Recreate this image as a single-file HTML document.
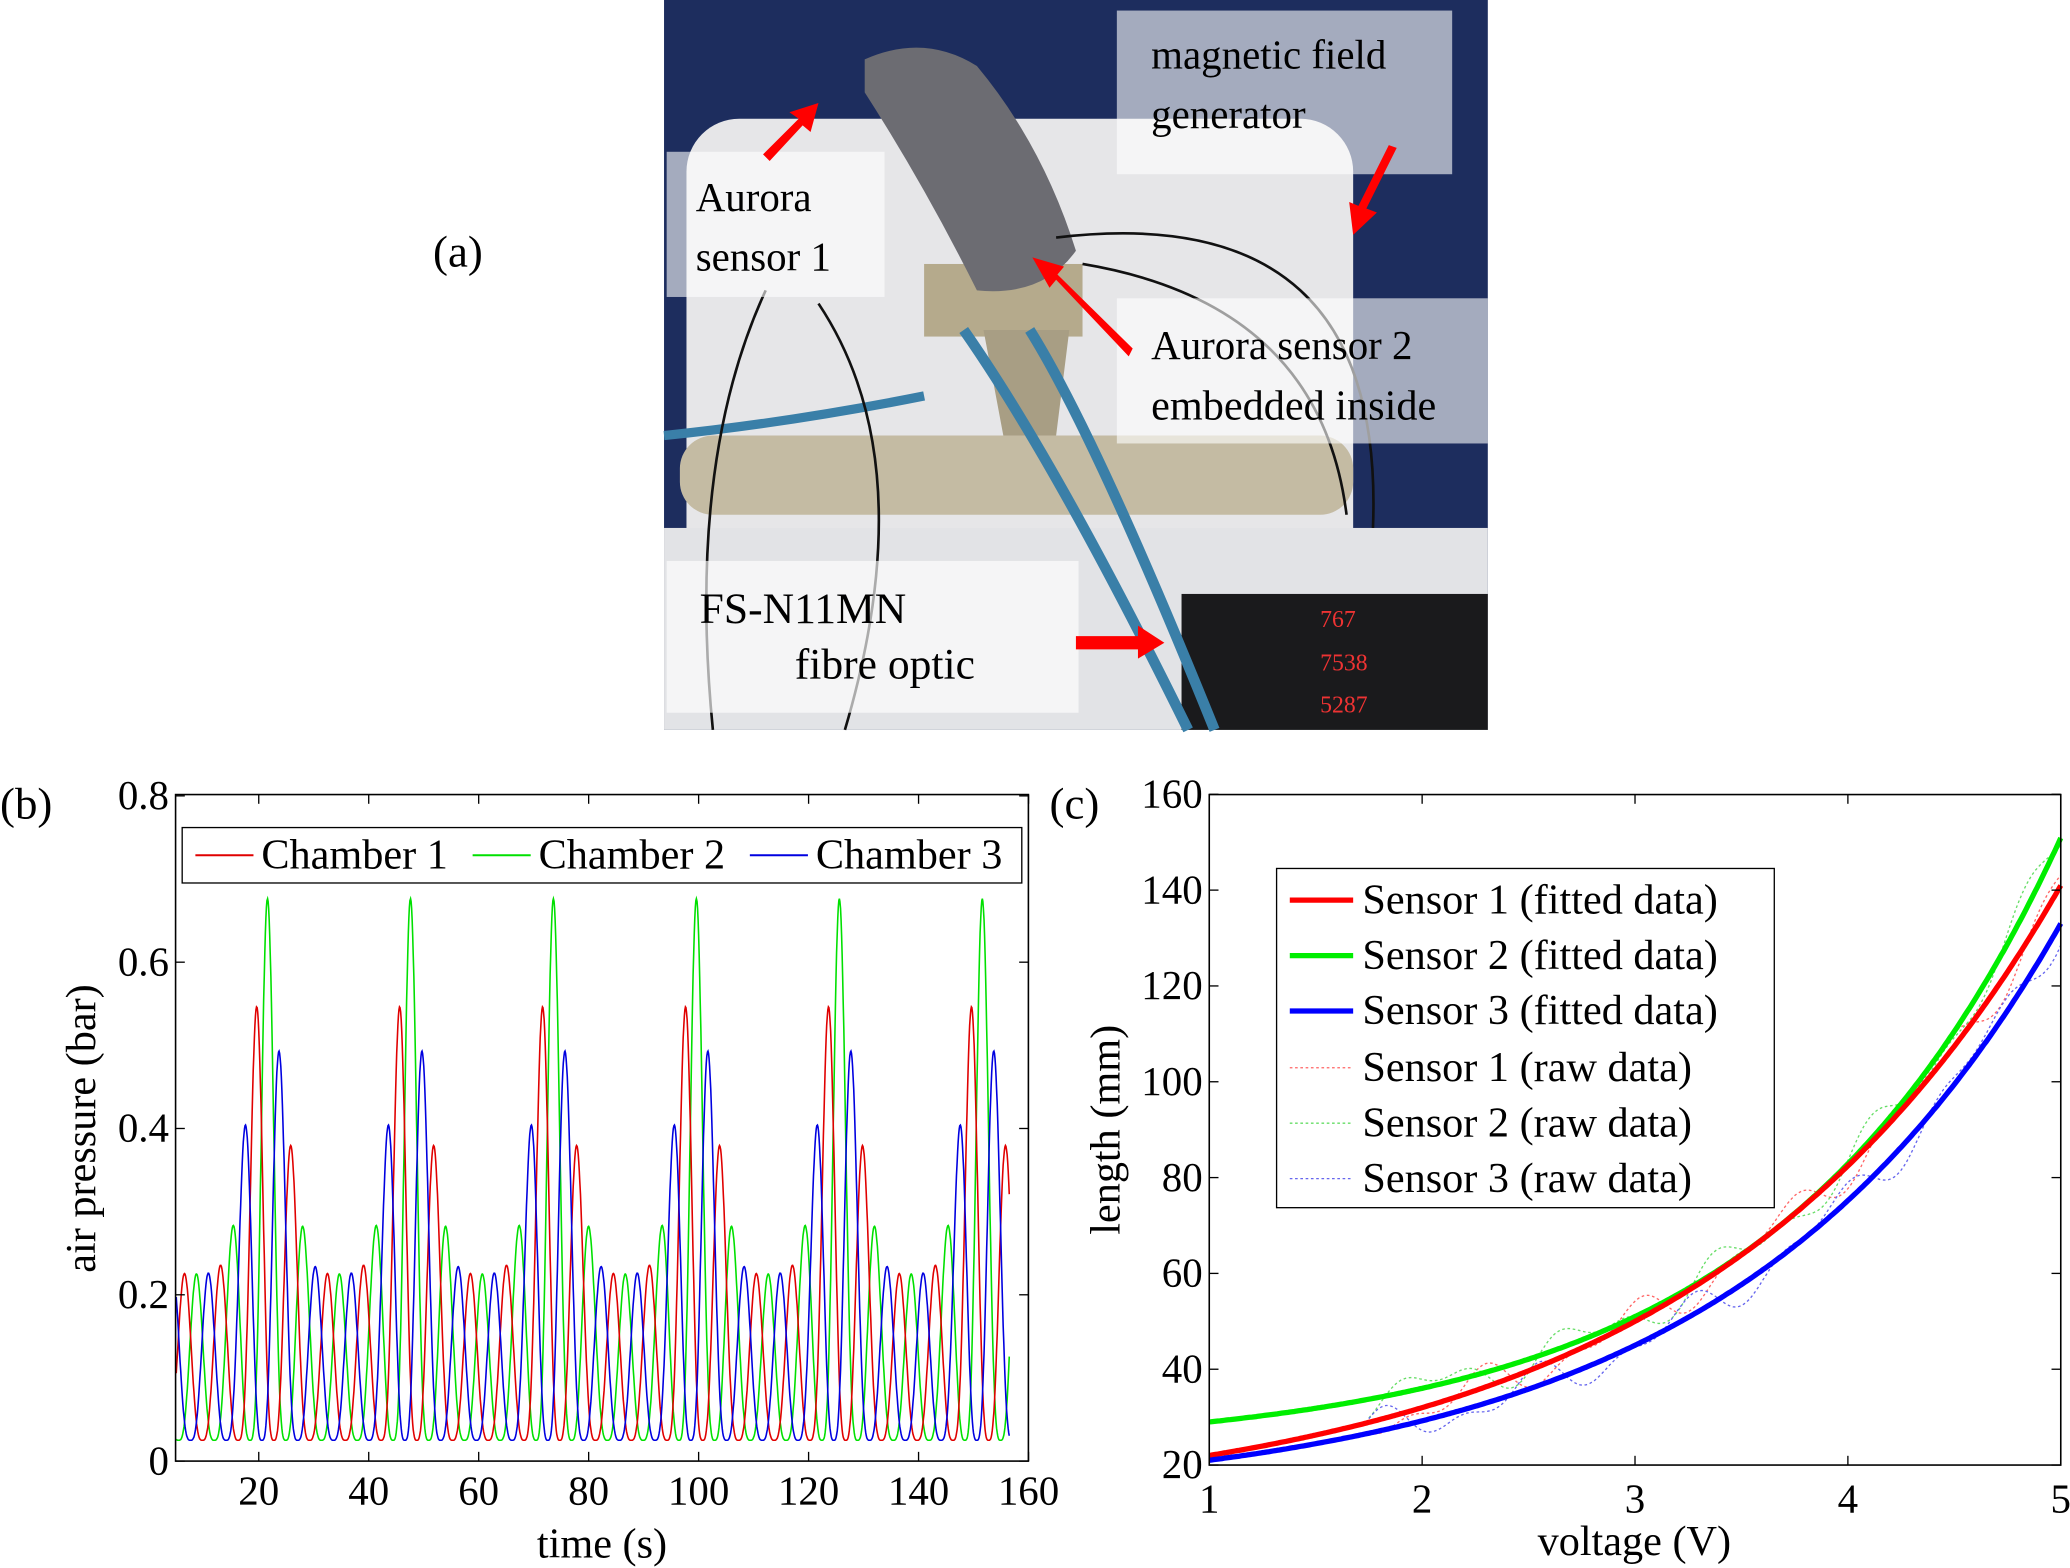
<!DOCTYPE html>
<html><head><meta charset="utf-8"><style>
html,body{margin:0;padding:0;background:#fff;}
svg{display:block;}
text{font-family:"Liberation Serif",serif;fill:#000;}
</style></head><body>
<svg id="s" width="2070" height="1568" viewBox="0 0 1568 1188" preserveAspectRatio="none" xmlns="http://www.w3.org/2000/svg">
<rect x="503" y="0" width="624" height="553" fill="#1d2d5e"/>
<rect x="520" y="90" width="505" height="400" rx="40" fill="#e6e6e8"/>
<rect x="503" y="400" width="624" height="153" fill="#e2e3e6"/>
<rect x="515" y="330" width="510" height="60" rx="25" fill="#c4bba3"/>
<rect x="700" y="200" width="120" height="55" fill="#b5aa8c"/>
<path d="M745 250 L810 250 L800 330 L760 330 Z" fill="#a89e84"/>
<path d="M655 45 Q700 25 740 50 Q790 110 815 190 Q790 225 740 220 Q700 140 655 70 Z" fill="#6c6c72"/>
<rect x="895" y="450" width="232" height="103" fill="#1a1a1c"/>
<text x="1000" y="475" font-size="18" style="fill:#e33">767</text>
<text x="1000" y="508" font-size="18" style="fill:#e33">7538</text>
<text x="1000" y="540" font-size="18" style="fill:#e33">5287</text>
<path d="M730 250 Q800 350 900 553" stroke="#3a7fa8" stroke-width="8" fill="none"/>
<path d="M780 250 Q830 330 920 553" stroke="#3a7fa8" stroke-width="8" fill="none"/>
<path d="M503 330 Q600 320 700 300" stroke="#3a7fa8" stroke-width="7" fill="none"/>
<path d="M580 220 Q520 350 540 553 M620 230 Q700 350 640 553 M800 180 Q1050 150 1040 400 M820 200 Q1000 230 1020 390" stroke="#111" stroke-width="2" fill="none"/>
<rect x="846" y="8" width="254" height="124" fill="#fff" opacity="0.6"/>
<rect x="505" y="115" width="165" height="110" fill="#fff" opacity="0.6"/>
<rect x="846" y="226" width="281" height="110" fill="#fff" opacity="0.6"/>
<rect x="505" y="425" width="312" height="115" fill="#fff" opacity="0.65"/>
<text x="872" y="52" font-size="31">magnetic field</text>
<text x="872" y="97" font-size="31">generator</text>
<text x="527" y="160" font-size="31">Aurora</text>
<text x="527" y="205" font-size="31">sensor 1</text>
<text x="872" y="272" font-size="31">Aurora sensor 2</text>
<text x="872" y="318" font-size="32">embedded inside</text>
<text x="530" y="472" font-size="33">FS-N11MN</text>
<text x="602" y="514" font-size="33">fibre optic</text>
<g style="fill:#f00">
<path d="M578 117 L605 90 L598 85 L620 78 L614 100 L608 95 L583 122 Z"/>
<path d="M855 270 L800 212 L795 218 L782 195 L806 202 L801 208 L858 264 Z"/>
<path d="M1058 112 L1035 158 L1043 161 L1025 178 L1022 153 L1029 156 L1052 110 Z"/>
<path d="M815 482 L862 482 L862 474 L882 487 L862 499 L862 492 L815 492 Z"/>
</g>
<text x="328" y="202" font-size="34">(a)</text>
<text x="0" y="620" font-size="34">(b)</text>
<text x="795" y="620" font-size="34">(c)</text>

<g id="pb"></g>
<rect x="133" y="602" width="646" height="505" fill="none" stroke="#000" stroke-width="1.2"/>
<g id="bt"></g>
<text x="456" y="1180" font-size="32" text-anchor="middle">time (s)</text>
<text transform="translate(72,855) rotate(-90)" font-size="32" text-anchor="middle">air pressure (bar)</text>
<rect x="138" y="627" width="636" height="42" fill="#fff" stroke="#000" stroke-width="1"/>
<line x1="148" y1="648" x2="192" y2="648" stroke="#e00000" stroke-width="1.5"/>
<text x="198" y="658" font-size="32">Chamber 1</text>
<line x1="358" y1="648" x2="402" y2="648" stroke="#00e000" stroke-width="1.5"/>
<text x="408" y="658" font-size="32">Chamber 2</text>
<line x1="568" y1="648" x2="612" y2="648" stroke="#0000e0" stroke-width="1.5"/>
<text x="618" y="658" font-size="32">Chamber 3</text>

<g id="pc"></g>
<rect x="916" y="602" width="645" height="508" fill="none" stroke="#000" stroke-width="1.2"/>
<g id="ct"></g>
<text x="1238" y="1178" font-size="32" text-anchor="middle">voltage (V)</text>
<text transform="translate(848,856) rotate(-90)" font-size="32" text-anchor="middle">length (mm)</text>
<rect x="967" y="658" width="377" height="257" fill="#fff" stroke="#000" stroke-width="1"/>
<g font-size="32">
<line x1="977" y1="682" x2="1025" y2="682" stroke="#f00" stroke-width="4"/><text x="1032" y="692">Sensor 1 (fitted data)</text>
<line x1="977" y1="724" x2="1025" y2="724" stroke="#0e0" stroke-width="4"/><text x="1032" y="734">Sensor 2 (fitted data)</text>
<line x1="977" y1="766" x2="1025" y2="766" stroke="#00f" stroke-width="4"/><text x="1032" y="776">Sensor 3 (fitted data)</text>
<line x1="977" y1="809" x2="1025" y2="809" stroke="#f66" stroke-width="1" stroke-dasharray="2,2"/><text x="1032" y="819">Sensor 1 (raw data)</text>
<line x1="977" y1="851" x2="1025" y2="851" stroke="#6d6" stroke-width="1" stroke-dasharray="2,2"/><text x="1032" y="861">Sensor 2 (raw data)</text>
<line x1="977" y1="893" x2="1025" y2="893" stroke="#66e" stroke-width="1" stroke-dasharray="2,2"/><text x="1032" y="903">Sensor 3 (raw data)</text>
</g>
</svg>
<script>
const NS="http://www.w3.org/2000/svg";
function el(p,t,a,txt){const e=document.createElementNS(NS,t);for(const k in a)e.setAttribute(k,a[k]);if(txt!==undefined)e.textContent=txt;document.getElementById(p).appendChild(e);return e;}
const bx=t=>196+(t-20)*83.3/20, by=v=>1107-v*630;
for(let t=20;t<=160;t+=20){const x=bx(t);el("bt","line",{x1:x,y1:1107,x2:x,y2:1100,stroke:"#000"});el("bt","line",{x1:x,y1:602,x2:x,y2:609,stroke:"#000"});el("bt","text",{x:x,y:1140,"font-size":31,"text-anchor":"middle"},t);}
for(let i=0;i<=4;i++){const v=i*0.2,y=by(v);el("bt","line",{x1:133,y1:y,x2:140,y2:y,stroke:"#000"});el("bt","line",{x1:772,y1:y,x2:779,y2:y,stroke:"#000"});el("bt","text",{x:128,y:y+10,"font-size":31,"text-anchor":"end"},i==0?"0":v.toFixed(1));}
const cols=["#e00000","#00e000","#0000e0"], P=6.5, T=26;
[1,0,2].forEach(k=>{let d="";for(let t=5;t<=156.5;t+=0.1){const ph=t/P - k/3;const c=0.5+0.5*Math.cos(2*Math.PI*ph);
 let cyc=((t-21)%T+T)%T; if(cyc>T/2)cyc-=T; const env=0.2+0.36*Math.exp(-cyc*cyc/18)+(k==1?0.1*Math.exp(-cyc*cyc/6):0)+0.06*Math.exp(-(cyc-5)*(cyc-5)/8);
 const v=0.025+env*Math.pow(c,1.6);d+=(d?"L":"M")+bx(t).toFixed(1)+" "+by(v).toFixed(1);}
 el("pb","path",{d:d,stroke:cols[k],"stroke-width":1.2,fill:"none"});});
const cx=v=>916+(v-1)*161.25, cy=L=>1110-(L-20)*72.6/20;
for(let v=1;v<=5;v++){const x=cx(v);el("ct","line",{x1:x,y1:1110,x2:x,y2:1103,stroke:"#000"});el("ct","line",{x1:x,y1:602,x2:x,y2:609,stroke:"#000"});el("ct","text",{x:x,y:1146,"font-size":31,"text-anchor":"middle"},v);}
for(let L=20;L<=160;L+=20){const y=cy(L);el("ct","line",{x1:916,y1:y,x2:923,y2:y,stroke:"#000"});el("ct","line",{x1:1554,y1:y,x2:1561,y2:y,stroke:"#000"});el("ct","text",{x:911,y:y+10,"font-size":31,"text-anchor":"end"},L);}
const fits=[[9.56,12.44,3.25,"#f00","#f66"],[22.8,6.2,4.545,"#0e0","#6d6"],[12,9,3.667,"#00f","#66e"]];
const f=(p,v)=>p[0]+p[1]*Math.pow(p[2],(v-1)/2);
fits.forEach((p,i)=>{let d="";for(let v=1.75;v<=5;v+=0.01){const w=3*Math.sin(v*9+i*2)+2*Math.sin(v*17+i);d+=(d?"L":"M")+cx(v).toFixed(1)+" "+cy(f(p,v)+w).toFixed(1);}
 el("pc","path",{d:d,stroke:p[4],"stroke-width":1,fill:"none","stroke-dasharray":"2,2"});});
[1,0,2].forEach(i=>{const p=fits[i];let d="";for(let v=1;v<=5;v+=0.01){d+=(d?"L":"M")+cx(v).toFixed(1)+" "+cy(f(p,v)).toFixed(1);}
 el("pc","path",{d:d,stroke:p[3],"stroke-width":4,fill:"none"});});
</script>
</body></html>
